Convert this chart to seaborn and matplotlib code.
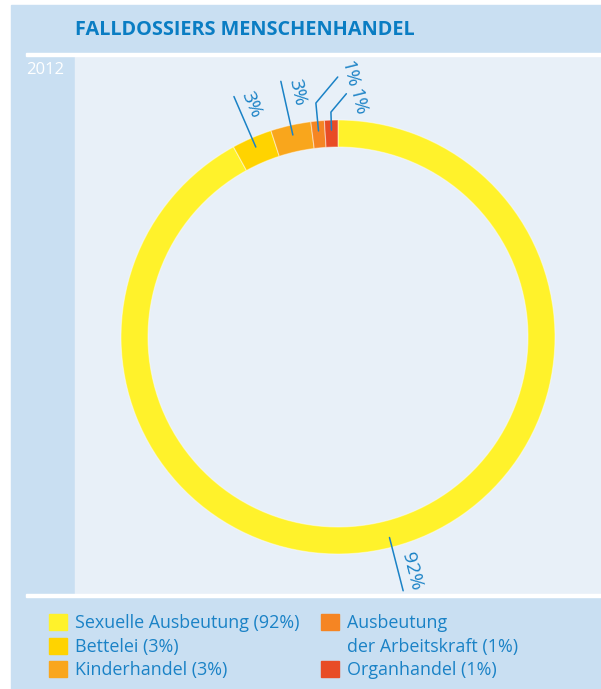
import numpy as np
import matplotlib
matplotlib.use("Agg")
import matplotlib.pyplot as plt
from matplotlib.patches import Rectangle
import seaborn as sns

# Data
categories = ["Sexuelle Ausbeutung", "Bettelei", "Kinderhandel",
              "Ausbeutung der Arbeitskraft", "Organhandel"]
shares = [92, 3, 3, 1, 1]
pct_labels = ["92%", "3%", "3%", "1%", "1%"]
legend_labels = ["Sexuelle Ausbeutung (92%)", "Bettelei (3%)", "Kinderhandel (3%)",
                 "Ausbeutung", "der Arbeitskraft (1%)", "Organhandel (1%)"]
title = "FALLDOSSIERS MENSCHENHANDEL"
year = "2012"

colors = ["#fff22b", "#ffd300", "#f9a61c", "#f58523", "#e84c26"]
blue = "#1a82c6"
panel = "#c9dff2"
plotbg = "#e8f0f8"

sns.set_style("white")
plt.rcParams['font.family'] = ['Open Sans', 'DejaVu Sans']

W, H = 601, 689
fig = plt.figure(figsize=(W / 100, H / 100), dpi=100)
ax = fig.add_axes([0, 0, 1, 1])

def Y(y):
    # image rows -> axes coords
    return H - y

# background panels
ax.add_patch(Rectangle((11, Y(H)), W - 11, H - 5, color=panel, zorder=0))
ax.add_patch(Rectangle((75, Y(594)), W - 75, 594 - 56, color=plotbg, zorder=1))
ax.add_patch(Rectangle((26, Y(56)), W - 26, 3, color="white", zorder=1))
ax.add_patch(Rectangle((26, Y(597)), W - 26, 3, color="white", zorder=1))

ax.text(75, Y(30), title, color="#0a7dc3", fontsize=14.3, fontweight="bold",
        va="center", ha="left")
ax.text(26, Y(70), year, color="white", fontsize=12, va="center", ha="left")

# donut
cx, cy, R, ring = 338, Y(337), 217, 27
wedges, _ = ax.pie(shares, colors=colors, startangle=90, counterclock=False,
                   center=(cx, cy), radius=R,
                   wedgeprops=dict(width=ring, edgecolor=(1, 1, 1, 0.45), linewidth=0.8))

# leader lines and labels
r0, r1 = 207, 262
knees = [None, None, None, (235, 34), (225, 24)]
text_off = [None, None, None, (12, 3), (11, -8)]
for w, lab, knee, off in zip(wedges, pct_labels, knees, text_off):
    mid = np.deg2rad((w.theta1 + w.theta2) / 2)
    u = np.array([np.cos(mid), np.sin(mid)])
    p0 = np.array([cx, cy]) + r0 * u
    top = np.sin(mid) > 0
    rot = np.rad2deg(mid) - 180 if top else np.rad2deg(mid)
    if knee is None:
        p1 = np.array([cx, cy]) + r1 * u
        tp = np.array([cx, cy]) + (r1 - 14 if top else 245) * u
        ax.plot([p0[0], p1[0]], [p0[1], p1[1]], color=blue, lw=1.1, zorder=5)
        upv = np.array([np.cos(np.deg2rad(rot + 90)), np.sin(np.deg2rad(rot + 90))])
        tp = tp + 13 * upv
    else:
        rk, dl = knee
        pk = np.array([cx, cy]) + rk * u
        d = np.deg2rad(50)
        p1 = pk + dl * np.array([np.cos(d), np.sin(d)])
        ax.plot([p0[0], pk[0], p1[0]], [p0[1], pk[1], p1[1]], color=blue, lw=1.1, zorder=5)
        tp = p1 + np.array(off)
        rot = -76
    ax.text(tp[0], tp[1], lab, rotation=rot, rotation_mode="anchor",
            ha="center", va="center", color=blue, fontsize=14, zorder=6)

ax.set_xlim(0, W)
ax.set_ylim(0, H)
ax.set_aspect("auto")
ax.axis("off")

# legend
handles = [Rectangle((0, 0), 1, 1, color=c) for c in colors[:4]]
handles.append(Rectangle((0, 0), 1, 1, color="none"))
handles.append(Rectangle((0, 0), 1, 1, color=colors[4]))
leg = ax.legend(handles, legend_labels, ncol=2, loc="upper left",
                bbox_to_anchor=(49 / W, 1 - 614 / H), frameon=False,
                fontsize=12.9, handlelength=1.0, handleheight=1.0,
                handletextpad=0.45, columnspacing=1.2, labelspacing=0.3,
                borderpad=0, borderaxespad=0)
for t in leg.get_texts():
    t.set_color(blue)

fig.savefig("out.png", dpi=100, facecolor="white")
